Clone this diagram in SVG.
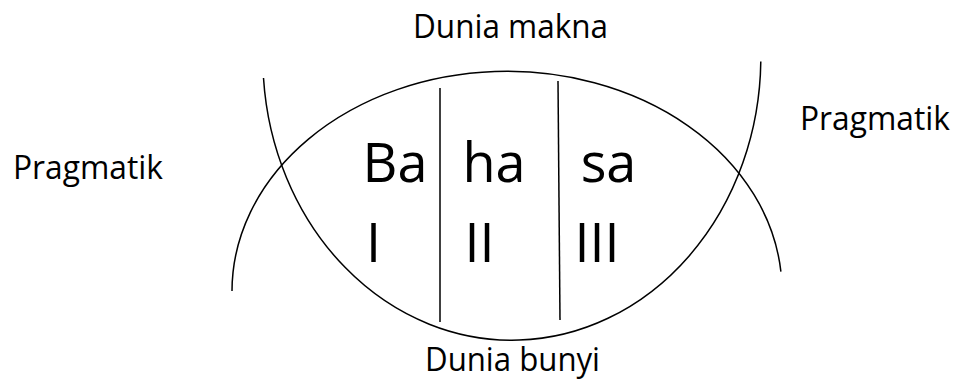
<svg xmlns="http://www.w3.org/2000/svg" width="956" height="381" viewBox="0 0 956 381">
  <style>
    .line { fill: none; stroke: #000; stroke-width: 1.5; }
    .label { font-family: "Open Sans", "Noto Sans", sans-serif; font-size: 32.5px; fill: #000; text-anchor: middle; }
    .big { font-family: "Open Sans", "Noto Sans", sans-serif; font-size: 54px; fill: #000; text-anchor: middle; }
  </style>
  <rect width="956" height="381" fill="#fff"/>

  <!-- two crossing arcs forming the lens, and the column dividers -->
  <g id="connectors">
    <path id="arc-top" class="line" d="M232,291 A275,220 0 0 1 780.9,271.7"/>
    <path id="arc-bottom" class="line" d="M263.5,78 A249,283 0 0 0 760.8,61.5"/>
    <line id="divider-1" class="line" x1="440" y1="88" x2="440" y2="322"/>
    <line id="divider-2" class="line" x1="558" y1="81" x2="560" y2="320"/>
  </g>

  <g id="dunia-makna"><text class="label" x="510.5" y="38" textLength="195" lengthAdjust="spacingAndGlyphs">Dunia makna</text></g>
  <g id="dunia-bunyi"><text class="label" x="512.5" y="370.5" textLength="175" lengthAdjust="spacingAndGlyphs">Dunia bunyi</text></g>
  <g id="pragmatik-left"><text class="label" x="88" y="179" textLength="150" lengthAdjust="spacingAndGlyphs">Pragmatik</text></g>
  <g id="pragmatik-right"><text class="label" x="875" y="130" textLength="150" lengthAdjust="spacingAndGlyphs">Pragmatik</text></g>

  <g id="col-1">
    <text class="big" x="395" y="182">Ba</text>
    <text class="big" x="373.5" y="262">I</text>
  </g>
  <g id="col-2">
    <text class="big" x="494" y="182">ha</text>
    <text class="big" x="479.5" y="262">II</text>
  </g>
  <g id="col-3">
    <text class="big" x="608.5" y="182">sa</text>
    <text class="big" x="597" y="262">III</text>
  </g>
</svg>
